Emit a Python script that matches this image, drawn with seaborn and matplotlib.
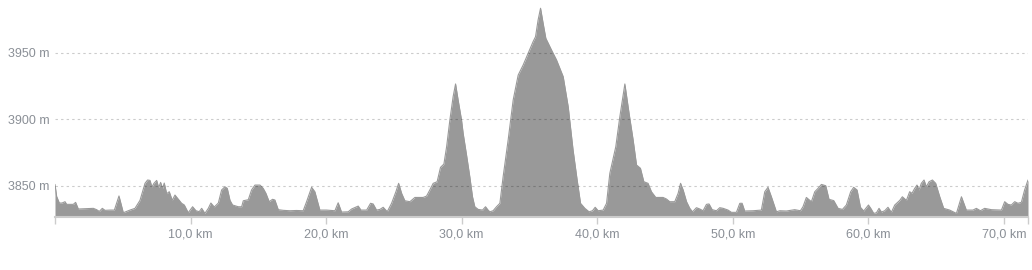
import matplotlib
matplotlib.use("Agg")
import matplotlib.pyplot as plt
import seaborn as sns
import pandas as pd

# distance (km) and elevation (m)
distance_km = [
    0.00, 0.12, 0.32, 0.52, 0.74, 0.86, 1.35, 1.52, 1.72, 2.83, 3.07, 3.27, 3.49, 3.69, 4.06, 4.38,
    4.72, 5.04, 5.53, 5.90, 6.27, 6.64, 6.83, 7.01, 7.15, 7.30, 7.50, 7.65, 7.79, 7.94, 8.06, 8.24,
    8.43, 8.65, 8.85, 9.05, 9.34, 9.54, 9.83, 10.15, 10.40, 10.64, 10.82, 11.06, 11.31, 11.50, 11.75,
    12.05, 12.29, 12.54, 12.71, 12.91, 13.10, 13.52, 13.77, 13.89, 14.26, 14.50, 14.75, 15.12, 15.36,
    15.56, 15.80, 16.05, 16.22, 16.47, 16.84, 17.33, 17.82, 18.31, 18.56, 18.93, 19.17, 19.54, 20.03,
    20.65, 20.89, 21.14, 21.63, 21.88, 22.37, 22.57, 22.99, 23.28, 23.47, 23.72, 23.97, 24.21, 24.51,
    24.83, 25.15, 25.35, 25.57, 25.81, 26.18, 26.55, 27.16, 27.41, 27.65, 27.90, 28.19, 28.44, 28.69,
    28.89, 29.13, 29.37, 29.55, 29.74, 29.99, 30.11, 30.36, 30.60, 30.80, 30.97, 31.22, 31.54, 31.76,
    31.95, 32.08, 32.32, 32.57, 32.82, 33.06, 33.43, 33.80, 34.17, 34.54, 34.91, 35.27, 35.45, 35.64,
    35.82, 36.01, 36.21, 36.63, 37.00, 37.49, 37.86, 38.22, 38.52, 38.77, 39.09, 39.40, 39.65, 39.85,
    40.07, 40.44, 40.69, 40.93, 41.37, 41.67, 42.04, 42.35, 42.65, 42.90, 43.19, 43.44, 43.75, 44.00,
    44.32, 44.86, 45.11, 45.35, 45.72, 45.97, 46.15, 46.34, 46.59, 46.83, 47.03, 47.32, 47.57, 47.81,
    48.06, 48.25, 48.48, 48.80, 49.04, 49.29, 49.65, 49.90, 50.27, 50.52, 50.69, 50.88, 51.50, 52.11,
    52.36, 52.60, 52.85, 53.22, 53.47, 53.96, 54.57, 54.99, 55.18, 55.43, 55.80, 56.05, 56.29, 56.54,
    56.86, 57.10, 57.45, 57.77, 58.09, 58.38, 58.70, 58.92, 59.17, 59.42, 59.66, 60.01, 60.18, 60.40,
    60.60, 60.79, 60.97, 61.21, 61.45, 61.70, 61.95, 62.32, 62.51, 62.81, 63.05, 63.22, 63.42, 63.59,
    63.74, 63.91, 64.11, 64.28, 64.48, 64.73, 64.97, 65.27, 65.56, 66.00, 66.50, 66.87, 67.23, 67.72,
    67.97, 68.27, 68.58, 69.08, 69.82, 70.06, 70.30, 70.55, 70.80, 71.04, 71.29, 71.53, 71.78,
]
elevation_m = [
    3851, 3842, 3837, 3837, 3838, 3836, 3836, 3837.5, 3832.5, 3833, 3832, 3830.7, 3833, 3831.5, 3831.7, 3831.7,
    3842.3, 3829.7, 3831.7, 3833, 3839, 3851.8, 3854.3, 3854, 3849, 3851.8, 3854, 3848.5, 3852.5, 3848, 3852, 3844,
    3845.5, 3839, 3843, 3840.5, 3836.8, 3835.5, 3829.7, 3834.2, 3831.2, 3830.5, 3833, 3829.2, 3833, 3837, 3834,
    3837, 3846.8, 3849.2, 3848, 3839, 3835.5, 3834.2, 3834.2, 3838.7, 3839.5, 3846.8, 3850.5, 3850.5, 3848,
    3844.3, 3838, 3839.8, 3839.3, 3832, 3831.5, 3831.2, 3831.4, 3831.2, 3838, 3848.8, 3845.5, 3831.7, 3831.7,
    3831.2, 3837.2, 3830.2, 3830.4, 3832.5, 3834.7, 3831.7, 3831.7, 3836.8, 3836.3, 3831.7, 3832.2, 3833.8, 3830.5,
    3836.8, 3845.5, 3851.8, 3844.3, 3838.7, 3838, 3841.2, 3841.2, 3842.2, 3846.8, 3851.8, 3853, 3863.8, 3866.3,
    3879.3, 3899.4, 3916.9, 3926.5, 3914.4, 3899.4, 3889.4, 3873.1, 3856.8, 3841.7, 3834.2, 3832.2, 3831.7, 3834.2,
    3831.7, 3830.4, 3831.2, 3834.2, 3836.8, 3856.8, 3884.4, 3914.4, 3933.2, 3940.8, 3949.6, 3958.3, 3962, 3974.6,
    3983.4, 3972.1, 3960.8, 3952, 3944.5, 3932, 3909.4, 3876.8, 3854.3, 3836.8, 3833, 3830.4, 3831.2, 3833.8,
    3831.2, 3831.7, 3836.8, 3859.3, 3879.3, 3901.9, 3926.5, 3904.4, 3884.4, 3865.6, 3863.1, 3853, 3851.8, 3845.5,
    3841.2, 3841.2, 3840, 3838, 3838, 3844.3, 3851.8, 3846.8, 3838, 3833, 3830.4, 3833.5, 3832.5, 3831.2,
    3836, 3836.3, 3832, 3831.2, 3833.5, 3833, 3831.7, 3830, 3830, 3836.8, 3836.8, 3831, 3831.2, 3831.7,
    3845.5, 3848.8, 3841.7, 3830.4, 3831.2, 3831, 3832, 3831.2, 3834.2, 3841.2, 3838, 3845.5, 3848, 3851,
    3850, 3839.8, 3838.8, 3833, 3832.2, 3835.5, 3845.5, 3848.8, 3846.8, 3833.8, 3831, 3835.5, 3833, 3829.2,
    3829.7, 3833, 3830.2, 3831.2, 3833.8, 3830, 3835.5, 3839, 3841.7, 3839, 3845.5, 3844.3, 3848, 3850.5,
    3846.8, 3851.8, 3854.3, 3849.2, 3853, 3854.3, 3851.8, 3841.7, 3833, 3831.7, 3829.2, 3841.7, 3831.7, 3831.7,
    3833, 3831.2, 3833, 3832, 3831.7, 3838, 3836, 3835.5, 3838, 3836.8, 3837.5, 3846.8, 3854.3,
]
y_ticks = [3850, 3900, 3950]
y_tick_labels = ["3850 m", "3900 m", "3950 m"]
x_ticks = [0, 10, 20, 30, 40, 50, 60, 70, 71.78]
x_tick_labels = ["", "10,0 km", "20,0 km", "30,0 km", "40,0 km", "50,0 km", "60,0 km", "70,0 km", ""]

df = pd.DataFrame({"km": distance_km, "m": elevation_m})

sns.set_theme(style="white")
plt.rcParams["font.family"] = ["Liberation Sans", "DejaVu Sans"]

fig = plt.figure(figsize=(10.32, 2.70), dpi=100)
ax = fig.add_axes([55 / 1032, 1 - 217 / 270, (1028 - 55) / 1032, 217 / 270])

fill_color = "#999999"
y_bottom = 3826.5
ax.fill_between(df["km"], df["m"], y_bottom, color=fill_color, linewidth=0, zorder=1)
sns.lineplot(data=df, x="km", y="m", ax=ax, color=fill_color, linewidth=0.8, zorder=2,
             sort=False, estimator=None)

ax.set_xlim(0, 71.78)
ax.set_ylim(y_bottom, 3989.6)

ax.set_yticks(y_ticks)
ax.set_yticklabels(y_tick_labels)
ax.set_xticks(x_ticks)
ax.set_xticklabels(x_tick_labels)
ax.set_xlabel("")
ax.set_ylabel("")

label_color = "#8a8f96"
ax.tick_params(axis="y", length=0, pad=4, labelsize=9, labelcolor=label_color)
ax.tick_params(axis="x", length=5, width=1, color="#cccccc", pad=3, labelsize=9,
               labelcolor=label_color, bottom=True)

ax.yaxis.grid(True, linestyle=(0, (2.2, 2.8)), color="black", alpha=0.2, linewidth=0.8)
ax.xaxis.grid(False)
ax.set_axisbelow(False)

for side in ["top", "right", "left"]:
    ax.spines[side].set_visible(False)
ax.spines["bottom"].set_color("#cccccc")
ax.spines["bottom"].set_linewidth(1.5)
ax.spines["bottom"].set_zorder(3)

fig.savefig("out.png", dpi=100)
